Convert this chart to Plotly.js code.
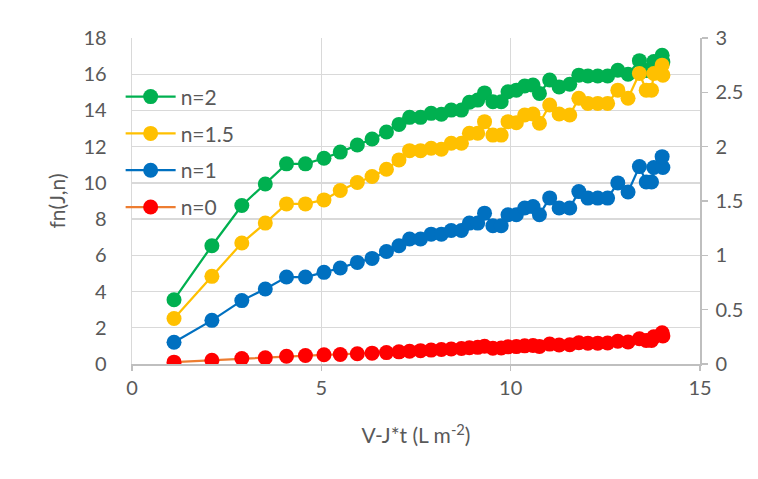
<!DOCTYPE html>
<html>
<head>
<meta charset="utf-8">
<script src="https://cdn.plot.ly/plotly-3.0.1.min.js"></script>
<style>html,body{margin:0;padding:0;background:#fff;}#chart{width:758px;height:479px;}</style>
</head>
<body>
<div id="chart"></div>
<script>
// Shared x values: V - J*t (L m^-2)
const xVals = [1.11, 2.11, 2.90, 3.52, 4.08, 4.58, 5.07, 5.50, 5.95, 6.34, 6.72, 7.05, 7.33, 7.62, 7.90, 8.17, 8.43, 8.70, 8.91, 9.13, 9.31, 9.53, 9.75, 9.93, 10.15, 10.37, 10.59, 10.76, 11.03, 11.28, 11.56, 11.80, 12.04, 12.30, 12.56, 12.83, 13.10, 13.40, 13.58, 13.72, 13.78, 14.02, 14.00];

// fn(J,n), primary axis
const n2 = [3.55, 6.53, 8.75, 9.94, 11.05, 11.05, 11.36, 11.70, 12.09, 12.42, 12.81, 13.23, 13.62, 13.62, 13.84, 13.79, 14.02, 14.02, 14.45, 14.57, 14.97, 14.48, 14.48, 15.03, 15.12, 15.35, 15.40, 14.94, 15.68, 15.30, 15.45, 15.95, 15.90, 15.90, 15.90, 16.22, 16.00, 16.75, 16.20, 16.20, 16.70, 16.68, 17.05];
const n15 = [2.51, 4.84, 6.68, 7.78, 8.84, 8.84, 9.06, 9.58, 10.02, 10.35, 10.75, 11.27, 11.78, 11.78, 11.91, 11.86, 12.19, 12.19, 12.74, 12.74, 13.38, 12.64, 12.64, 13.38, 13.32, 13.75, 13.80, 13.29, 14.30, 13.80, 13.75, 14.67, 14.39, 14.39, 14.39, 15.12, 14.67, 16.04, 15.12, 15.12, 16.04, 15.95, 16.50];
const n1 = [1.20, 2.41, 3.50, 4.14, 4.80, 4.80, 5.06, 5.30, 5.61, 5.83, 6.21, 6.53, 6.90, 6.90, 7.17, 7.17, 7.37, 7.37, 7.78, 7.78, 8.33, 7.63, 7.63, 8.24, 8.24, 8.61, 8.69, 8.24, 9.17, 8.61, 8.61, 9.52, 9.16, 9.16, 9.16, 10.00, 9.50, 10.90, 10.05, 10.05, 10.85, 10.85, 11.45];
// fn(J,0), secondary axis
const n0 = [0.017, 0.035, 0.050, 0.057, 0.072, 0.078, 0.085, 0.088, 0.095, 0.100, 0.105, 0.112, 0.118, 0.123, 0.128, 0.133, 0.138, 0.143, 0.150, 0.153, 0.163, 0.145, 0.147, 0.158, 0.160, 0.167, 0.170, 0.162, 0.183, 0.175, 0.177, 0.195, 0.192, 0.192, 0.193, 0.210, 0.203, 0.233, 0.217, 0.217, 0.250, 0.258, 0.287];

const leftTicks = [0, 2, 4, 6, 8, 10, 12, 14, 16, 18];
const rightTicks = [0, 0.5, 1, 1.5, 2, 2.5, 3];
const xTicks = [0, 5, 10, 15];

const FONT = 'Lato, "Open Sans", sans-serif';
const TXT = '#595959';
const MS = 15;

function tr(name, y, lineColor, markerColor, axis, grp) {
  return {
    type: 'scatter', mode: 'lines+markers', name: name, x: xVals, y: y,
    yaxis: axis, legendgroup: grp,
    line: {color: lineColor, width: 2.25},
    marker: {color: markerColor, size: MS, symbol: 'circle'}
  };
}

const data = [
  tr('n=2', n2, '#00B050', '#00B050', 'y', 'a'),
  tr('n=1.5', n15, '#FFC000', '#FFC000', 'y', 'b'),
  tr('n=1', n1, '#0070C0', '#0070C0', 'y', 'c'),
  tr('n=0', n0, '#ED7D31', '#FF0000', 'y2', 'd')
];

const layout = {
  width: 758, height: 479,
  margin: {l: 132, r: 58, t: 38, b: 114.5},
  paper_bgcolor: '#fff', plot_bgcolor: '#fff',
  font: {family: FONT, size: 20, color: TXT},
  showlegend: true,
  legend: {
    x: -0.02, y: 0.882, xanchor: 'left', yanchor: 'top',
    bgcolor: 'rgba(0,0,0,0)', font: {family: FONT, size: 21, color: TXT},
    itemwidth: 50, tracegroupgap: 6.5, traceorder: 'grouped'
  },
  xaxis: {
    range: [0, 15], tickvals: xTicks, ticktext: xTicks.map(String),
    showgrid: true, gridcolor: '#D9D9D9', gridwidth: 1.3,
    zeroline: false, showline: true, linecolor: '#BFBFBF', linewidth: 1.5,
    ticks: 'outside', ticklen: 5, tickcolor: '#BFBFBF', tickwidth: 1.5,
    tickfont: {family: FONT, size: 20, color: TXT},
    title: {text: 'V-J*t (L m<sup>-2</sup>)', font: {family: FONT, size: 21, color: TXT}, standoff: 31}
  },
  yaxis: {
    range: [0, 18], tickvals: leftTicks, ticktext: leftTicks.map(String),
    showgrid: true, gridcolor: '#D9D9D9', gridwidth: 1.3,
    zeroline: false, showline: true, linecolor: '#D9D9D9', linewidth: 1.3,
    ticks: '', ticklabelstandoff: 20,
    tickfont: {family: FONT, size: 20, color: TXT},
    title: {text: 'fn(J,n)', font: {family: FONT, size: 21, color: TXT}, standoff: 12}
  },
  yaxis2: {
    range: [0, 3], tickvals: rightTicks, ticktext: rightTicks.map(String),
    overlaying: 'y', side: 'right', showgrid: false, zeroline: false,
    showline: true, linecolor: '#BFBFBF', linewidth: 1.5,
    ticks: 'outside', ticklen: 6, tickcolor: '#BFBFBF', tickwidth: 1.5,
    ticklabelstandoff: 4,
    tickfont: {family: FONT, size: 20, color: TXT}
  }
};

Plotly.newPlot('chart', data, layout, {displayModeBar: false, staticPlot: true});
</script>
</body>
</html>
